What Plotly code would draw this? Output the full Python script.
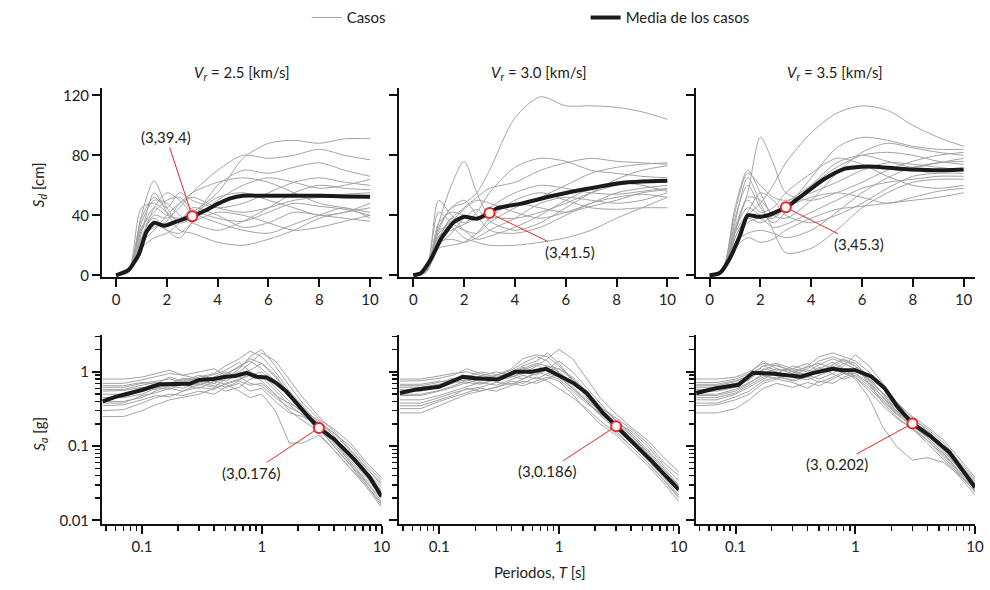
import plotly.graph_objects as go
import math

# ---------------- DATA ----------------
PANEL_TITLES = ["2.5", "3.0", "3.5"]

# Top row: spectral displacement Sd [cm] vs T [s]
T_TOP = [0, 0.5, 1, 1.5, 2, 2.5, 3, 4, 5, 6, 7, 8, 9, 10]

SD_CASES_25 = [
    [0, 3, 30, 45, 40, 38, 42, 55, 78, 88, 90, 88, 91, 91],
    [0, 2, 25, 40, 38, 45, 55, 70, 80, 78, 80, 84, 80, 77],
    [0, 4, 40, 63, 45, 35, 38, 60, 70, 68, 72, 75, 70, 66],
    [0, 3, 35, 50, 48, 40, 35, 30, 36, 45, 55, 60, 58, 57],
    [0, 2, 28, 55, 42, 30, 28, 22, 20, 24, 30, 38, 42, 45],
    [0, 3, 38, 52, 45, 55, 50, 45, 48, 55, 62, 65, 62, 60],
    [0, 2, 20, 35, 30, 28, 35, 42, 40, 35, 30, 32, 36, 40],
    [0, 2, 22, 30, 40, 48, 52, 45, 42, 45, 50, 52, 54, 55],
    [0, 3, 30, 38, 30, 25, 35, 50, 60, 65, 62, 58, 60, 64],
    [0, 2, 18, 25, 28, 35, 45, 40, 32, 35, 42, 40, 38, 36],
    [0, 4, 45, 48, 42, 36, 40, 52, 55, 50, 45, 40, 42, 48],
    [0, 2, 25, 32, 36, 48, 55, 62, 65, 62, 55, 48, 45, 42],
    [0, 3, 32, 42, 50, 52, 44, 38, 36, 42, 48, 46, 44, 40],
    [0, 2, 24, 45, 55, 50, 42, 35, 30, 28, 34, 40, 45, 38],
]
SD_CASES_30 = [
    [0, 3, 30, 45, 48, 55, 70, 105, 119, 113, 113, 112, 109, 104],
    [0, 3, 35, 60, 76, 55, 40, 38, 42, 48, 55, 60, 62, 62],
    [0, 4, 50, 40, 35, 42, 55, 72, 78, 76, 70, 68, 66, 65],
    [0, 2, 25, 38, 45, 52, 58, 62, 70, 75, 78, 76, 75, 74],
    [0, 3, 30, 32, 25, 22, 20, 20, 22, 25, 30, 38, 45, 52],
    [0, 2, 20, 28, 38, 44, 36, 30, 35, 45, 55, 64, 70, 73],
    [0, 3, 35, 42, 40, 38, 45, 55, 60, 58, 55, 54, 56, 58],
    [0, 2, 22, 24, 22, 25, 30, 38, 48, 52, 50, 48, 50, 55],
    [0, 3, 28, 36, 44, 50, 48, 42, 38, 42, 48, 55, 58, 60],
    [0, 4, 42, 35, 30, 28, 35, 45, 52, 60, 68, 72, 74, 75],
    [0, 2, 18, 20, 22, 28, 38, 50, 55, 50, 45, 44, 45, 45],
    [0, 3, 32, 45, 50, 40, 30, 28, 32, 40, 48, 52, 54, 52],
    [0, 2, 26, 30, 34, 38, 42, 48, 45, 42, 46, 50, 55, 57],
    [0, 3, 24, 38, 30, 24, 26, 32, 40, 50, 58, 62, 60, 56],
]
SD_CASES_35 = [
    [0, 3, 30, 55, 92, 75, 55, 50, 55, 62, 70, 76, 80, 82],
    [0, 2, 25, 40, 48, 60, 75, 95, 108, 113, 110, 100, 92, 86],
    [0, 4, 45, 70, 55, 40, 45, 65, 85, 92, 90, 86, 84, 84],
    [0, 3, 35, 65, 48, 30, 15, 18, 30, 45, 55, 62, 64, 64],
    [0, 2, 28, 52, 50, 40, 38, 50, 68, 82, 88, 85, 82, 80],
    [0, 3, 38, 60, 45, 35, 42, 60, 75, 80, 76, 72, 75, 78],
    [0, 2, 20, 35, 38, 32, 34, 42, 50, 58, 62, 64, 66, 66],
    [0, 3, 30, 45, 40, 38, 45, 52, 55, 52, 48, 52, 56, 58],
    [0, 2, 22, 28, 30, 28, 25, 30, 42, 55, 65, 72, 75, 76],
    [0, 4, 42, 68, 60, 52, 50, 55, 62, 70, 75, 74, 72, 70],
    [0, 2, 25, 38, 35, 40, 48, 60, 72, 80, 82, 80, 76, 74],
    [0, 3, 32, 50, 42, 45, 55, 68, 78, 74, 66, 60, 58, 60],
    [0, 2, 18, 25, 22, 24, 30, 38, 44, 46, 48, 50, 52, 55],
    [0, 3, 28, 42, 55, 50, 40, 35, 40, 48, 58, 66, 68, 68],
]

T_MEAN_TOP_25 = [0, 0.5, 0.9, 1.2, 1.5, 1.9, 2.4, 3, 3.5, 4, 4.5, 5, 6, 7, 8, 9, 10]
SD_MEAN_25 = [0, 3.7, 14, 29, 35, 33, 36, 39.4, 43, 47.6, 51.3, 53, 53, 53, 53, 52.6, 52.4]
T_MEAN_TOP_30 = [0, 0.3, 0.7, 1.1, 1.6, 2.0, 2.5, 3.0, 3.3, 4.2, 5.5, 6.8, 8.1, 9, 10]
SD_MEAN_30 = [0, 1.5, 11, 24.5, 35.5, 39, 37.7, 41.5, 44.7, 47.6, 53, 57.5, 61.4, 62.5, 63]
T_MEAN_TOP_35 = [0, 0.4, 0.8, 1.2, 1.5, 1.9, 2.3, 3.0, 3.6, 4.5, 5.3, 6, 6.5, 7.5, 8.8, 10]
SD_MEAN_35 = [0, 1.5, 11.4, 26.7, 40, 39, 40, 45.3, 52.6, 64, 71, 72.4, 72.4, 71, 70, 70.6]

# Bottom row: spectral acceleration Sa [g] vs T [s] (log-log)
T_BOT = [0.047, 0.07, 0.1, 0.13, 0.17, 0.22, 0.3, 0.4, 0.5, 0.65, 0.8, 1.0, 1.3, 1.7, 2.2, 3, 4, 5.5, 7.5, 10]

SA_CASES_25 = [
    [0.62, 0.62, 0.70, 0.75, 0.80, 0.72, 0.85, 0.95, 1.20, 1.50, 1.90, 1.60, 1.00, 0.55, 0.35, 0.20, 0.13, 0.075, 0.045, 0.028],
    [0.45, 0.46, 0.55, 0.62, 0.58, 0.70, 0.66, 0.80, 0.75, 0.95, 1.05, 1.30, 0.90, 0.50, 0.30, 0.22, 0.15, 0.085, 0.050, 0.032],
    [0.30, 0.31, 0.38, 0.45, 0.50, 0.48, 0.55, 0.50, 0.62, 0.70, 0.55, 0.60, 0.40, 0.28, 0.25, 0.19, 0.12, 0.060, 0.033, 0.018],
    [0.70, 0.70, 0.78, 0.85, 0.95, 0.90, 1.00, 1.10, 0.90, 1.20, 1.40, 1.10, 0.75, 0.45, 0.30, 0.17, 0.10, 0.055, 0.032, 0.020],
    [0.25, 0.25, 0.30, 0.36, 0.42, 0.45, 0.50, 0.60, 0.68, 0.55, 0.45, 0.50, 0.30, 0.11, 0.11, 0.14, 0.09, 0.050, 0.028, 0.015],
    [0.55, 0.56, 0.62, 0.58, 0.70, 0.80, 0.75, 0.70, 0.85, 1.00, 1.30, 1.80, 1.40, 0.80, 0.45, 0.25, 0.16, 0.090, 0.050, 0.030],
    [0.40, 0.40, 0.45, 0.55, 0.65, 0.60, 0.72, 0.65, 0.55, 0.62, 0.80, 0.90, 0.62, 0.40, 0.28, 0.20, 0.15, 0.100, 0.055, 0.035],
    [0.80, 0.80, 0.85, 0.95, 1.05, 0.90, 0.80, 0.92, 1.05, 1.35, 1.00, 0.85, 0.55, 0.36, 0.26, 0.18, 0.11, 0.060, 0.035, 0.022],
    [0.35, 0.36, 0.42, 0.48, 0.46, 0.55, 0.62, 0.58, 0.70, 0.80, 0.95, 0.75, 0.50, 0.30, 0.22, 0.16, 0.12, 0.080, 0.045, 0.025],
    [0.50, 0.50, 0.58, 0.65, 0.62, 0.75, 0.70, 0.85, 1.00, 0.85, 0.70, 0.65, 0.45, 0.33, 0.27, 0.21, 0.14, 0.070, 0.040, 0.024],
    [0.65, 0.65, 0.72, 0.68, 0.85, 0.75, 0.90, 0.80, 0.95, 1.15, 1.50, 1.30, 0.85, 0.50, 0.32, 0.19, 0.12, 0.065, 0.038, 0.022],
    [0.45, 0.45, 0.50, 0.60, 0.72, 0.68, 0.60, 0.75, 0.68, 0.78, 0.90, 1.00, 0.70, 0.45, 0.30, 0.15, 0.09, 0.050, 0.030, 0.017],
    [0.38, 0.38, 0.48, 0.52, 0.60, 0.55, 0.68, 0.62, 0.80, 1.10, 1.60, 2.00, 1.20, 0.65, 0.38, 0.23, 0.17, 0.110, 0.060, 0.038],
    [0.58, 0.58, 0.66, 0.72, 0.68, 0.82, 0.78, 0.70, 0.62, 0.75, 0.66, 0.70, 0.48, 0.38, 0.30, 0.18, 0.10, 0.055, 0.030, 0.016],
]
SA_CASES_30 = [
    [0.55, 0.55, 0.62, 0.70, 0.80, 0.75, 0.90, 1.10, 1.50, 1.70, 1.60, 1.20, 0.80, 0.50, 0.33, 0.24, 0.17, 0.110, 0.060, 0.040],
    [0.75, 0.76, 0.82, 0.90, 1.10, 0.95, 0.85, 1.00, 1.20, 1.40, 1.80, 1.30, 0.75, 0.45, 0.28, 0.18, 0.12, 0.070, 0.040, 0.025],
    [0.35, 0.35, 0.42, 0.48, 0.60, 0.55, 0.62, 0.75, 0.70, 0.85, 0.75, 0.60, 0.45, 0.32, 0.22, 0.15, 0.10, 0.060, 0.035, 0.020],
    [0.62, 0.62, 0.68, 0.80, 0.90, 0.85, 0.75, 0.85, 1.00, 0.90, 1.10, 1.40, 1.00, 0.60, 0.38, 0.22, 0.14, 0.080, 0.045, 0.028],
    [0.28, 0.28, 0.35, 0.42, 0.50, 0.55, 0.62, 0.70, 0.65, 0.75, 0.85, 0.75, 0.50, 0.30, 0.20, 0.14, 0.09, 0.055, 0.032, 0.018],
    [0.48, 0.48, 0.55, 0.62, 0.72, 0.68, 0.80, 0.95, 1.10, 1.30, 1.20, 1.00, 0.70, 0.48, 0.32, 0.20, 0.13, 0.080, 0.045, 0.027],
    [0.68, 0.68, 0.75, 0.72, 0.85, 1.00, 0.92, 0.85, 0.95, 1.20, 1.50, 2.00, 1.50, 0.80, 0.45, 0.27, 0.18, 0.120, 0.070, 0.045],
    [0.42, 0.42, 0.48, 0.55, 0.62, 0.72, 0.66, 0.78, 0.90, 0.80, 0.95, 0.85, 0.60, 0.40, 0.26, 0.17, 0.11, 0.065, 0.038, 0.022],
    [0.58, 0.58, 0.65, 0.75, 0.70, 0.80, 0.90, 1.05, 1.30, 1.60, 1.40, 0.95, 0.62, 0.42, 0.30, 0.19, 0.12, 0.075, 0.042, 0.026],
    [0.38, 0.38, 0.45, 0.52, 0.58, 0.62, 0.72, 0.68, 0.80, 1.00, 1.20, 1.10, 0.80, 0.55, 0.35, 0.22, 0.15, 0.090, 0.050, 0.030],
    [0.80, 0.80, 0.88, 0.95, 1.00, 0.90, 0.82, 0.95, 1.15, 1.00, 0.90, 0.80, 0.55, 0.38, 0.28, 0.20, 0.14, 0.085, 0.048, 0.029],
    [0.50, 0.50, 0.56, 0.64, 0.78, 0.70, 0.78, 0.88, 0.80, 0.95, 1.05, 1.10, 0.85, 0.55, 0.33, 0.16, 0.10, 0.060, 0.035, 0.021],
    [0.32, 0.32, 0.40, 0.46, 0.52, 0.60, 0.55, 0.65, 0.75, 0.70, 0.80, 0.95, 0.70, 0.48, 0.32, 0.21, 0.16, 0.100, 0.055, 0.034],
    [0.65, 0.65, 0.72, 0.82, 0.75, 0.88, 1.00, 0.90, 1.05, 1.25, 1.00, 0.88, 0.60, 0.40, 0.27, 0.19, 0.13, 0.070, 0.040, 0.024],
]
SA_CASES_35 = [
    [0.55, 0.55, 0.62, 0.80, 1.20, 1.30, 1.10, 1.00, 1.25, 1.50, 1.30, 1.10, 0.75, 0.45, 0.28, 0.18, 0.12, 0.070, 0.040, 0.025],
    [0.72, 0.72, 0.80, 0.95, 1.40, 1.10, 0.95, 1.20, 1.60, 1.80, 1.60, 1.40, 1.00, 0.60, 0.38, 0.25, 0.18, 0.120, 0.065, 0.038],
    [0.35, 0.36, 0.42, 0.50, 0.70, 0.80, 0.72, 0.60, 0.75, 0.70, 0.85, 0.95, 0.70, 0.45, 0.30, 0.20, 0.15, 0.090, 0.048, 0.028],
    [0.62, 0.62, 0.70, 0.85, 1.00, 0.90, 0.75, 0.85, 1.05, 1.20, 1.00, 0.80, 0.45, 0.18, 0.10, 0.065, 0.07, 0.060, 0.040, 0.025],
    [0.48, 0.48, 0.55, 0.70, 0.95, 1.10, 1.00, 0.90, 0.80, 0.95, 1.20, 1.70, 1.20, 0.70, 0.40, 0.24, 0.16, 0.100, 0.055, 0.032],
    [0.28, 0.28, 0.32, 0.42, 0.60, 0.70, 0.62, 0.72, 0.65, 0.80, 0.95, 0.85, 0.60, 0.40, 0.27, 0.19, 0.13, 0.080, 0.045, 0.026],
    [0.80, 0.80, 0.85, 1.00, 1.30, 1.20, 1.05, 0.90, 1.10, 1.35, 1.10, 0.85, 0.55, 0.35, 0.24, 0.17, 0.12, 0.075, 0.042, 0.024],
    [0.42, 0.42, 0.50, 0.62, 0.80, 0.95, 0.90, 1.10, 1.40, 1.60, 1.40, 1.20, 0.90, 0.60, 0.36, 0.22, 0.14, 0.085, 0.048, 0.028],
    [0.58, 0.58, 0.64, 0.78, 1.10, 1.00, 0.85, 0.78, 0.90, 1.05, 1.30, 1.10, 0.80, 0.50, 0.32, 0.20, 0.15, 0.095, 0.052, 0.030],
    [0.38, 0.38, 0.46, 0.55, 0.75, 0.85, 0.78, 0.95, 1.15, 0.95, 0.80, 0.90, 0.65, 0.42, 0.28, 0.21, 0.16, 0.100, 0.056, 0.034],
    [0.65, 0.65, 0.74, 0.90, 1.20, 1.05, 1.10, 1.30, 1.00, 1.15, 1.45, 1.30, 0.85, 0.50, 0.30, 0.19, 0.13, 0.078, 0.044, 0.026],
    [0.50, 0.50, 0.58, 0.72, 0.90, 0.80, 0.95, 0.85, 0.72, 0.85, 1.00, 1.05, 0.78, 0.52, 0.34, 0.23, 0.17, 0.110, 0.060, 0.036],
    [0.45, 0.45, 0.52, 0.66, 0.85, 0.95, 1.20, 1.05, 0.95, 1.25, 1.50, 1.20, 0.70, 0.38, 0.25, 0.17, 0.11, 0.065, 0.038, 0.022],
    [0.68, 0.68, 0.76, 0.88, 1.05, 1.25, 1.00, 1.15, 1.30, 1.10, 0.95, 0.95, 0.70, 0.46, 0.30, 0.22, 0.15, 0.092, 0.050, 0.030],
]

T_MEAN_BOT_25 = [0.047, 0.06, 0.08, 0.1, 0.14, 0.2, 0.25, 0.3, 0.4, 0.5, 0.6, 0.75, 0.9, 1.1, 1.3, 1.6, 2.0, 2.5, 3, 4, 5, 6, 8, 10]
SA_MEAN_25 = [0.40, 0.46, 0.52, 0.57, 0.68, 0.68, 0.69, 0.78, 0.80, 0.86, 0.88, 0.97, 0.86, 0.84, 0.72, 0.55, 0.36, 0.24, 0.176, 0.125, 0.088, 0.065, 0.038, 0.021]
T_MEAN_BOT_30 = [0.047, 0.065, 0.1, 0.157, 0.2, 0.31, 0.43, 0.58, 0.78, 1.03, 1.33, 1.7, 2.33, 3.0, 4.1, 6.0, 10]
SA_MEAN_30 = [0.52, 0.58, 0.63, 0.86, 0.82, 0.79, 1.0, 1.0, 1.1, 0.86, 0.70, 0.52, 0.28, 0.186, 0.113, 0.062, 0.026]
T_MEAN_BOT_35 = [0.047, 0.069, 0.106, 0.14, 0.2, 0.35, 0.45, 0.65, 0.78, 1.0, 1.37, 1.76, 2.25, 3.0, 4.2, 6.1, 10]
SA_MEAN_35 = [0.52, 0.60, 0.67, 0.97, 0.95, 0.86, 0.97, 1.1, 1.05, 1.05, 0.86, 0.60, 0.34, 0.202, 0.138, 0.083, 0.028]

SD_AT_3 = [39.4, 41.5, 45.3]
SA_AT_3 = [0.176, 0.186, 0.202]
SD_LABELS = ["(3,39.4)", "(3,41.5)", "(3,45.3)"]
SA_LABELS = ["(3,0.176)", "(3,0.186)", "(3, 0.202)"]

# ---------------- FIGURE ----------------
W, H = 990, 590
FONT = "Lato"
GRAY = "#a3a3a3"
BLACK = "#1a1a1a"
RED = "#e8262b"
TXT = "#222"


def fx(px):
    return px / W


def fy(py):
    return 1 - py / H


fig = go.Figure()

xdom = [(103, 385), (403, 685), (702, 984)]
ydom_top = (87, 279)
ydom_bot = (338, 529)

sd_cases = [SD_CASES_25, SD_CASES_30, SD_CASES_35]
sd_mean_t = [T_MEAN_TOP_25, T_MEAN_TOP_30, T_MEAN_TOP_35]
sd_mean = [SD_MEAN_25, SD_MEAN_30, SD_MEAN_35]
sa_cases = [SA_CASES_25, SA_CASES_30, SA_CASES_35]
sa_mean_t = [T_MEAN_BOT_25, T_MEAN_BOT_30, T_MEAN_BOT_35]
sa_mean = [SA_MEAN_25, SA_MEAN_30, SA_MEAN_35]

axis_common = dict(
    showline=True, linecolor="#111", linewidth=2, ticks="outside", ticklen=8,
    tickwidth=2, tickcolor="#111", showgrid=False, zeroline=False,
    tickfont=dict(family=FONT, size=15, color=TXT), mirror=False,
)

minor_x_log = [v * m for v in (0.01, 0.1, 1) for m in range(2, 10) if 0.045 < v * m < 10]
minor_y_log = [v * m for v in (0.01, 0.1, 1) for m in range(2, 10) if v * m < 3.1]

annotations = []
first_case = True
for i in range(3):
    xt = 2 * i + 1
    xb = 2 * i + 2
    xa_t = "x" if xt == 1 else f"x{xt}"
    ya_t = "y" if xt == 1 else f"y{xt}"
    xa_b = f"x{xb}"
    ya_b = f"y{xb}"

    for case in sd_cases[i]:
        fig.add_trace(go.Scatter(
            x=T_TOP, y=case, mode="lines", line=dict(color=GRAY, width=1, shape="spline", smoothing=0.8),
            xaxis=xa_t, yaxis=ya_t, name="Casos", legendgroup="casos", showlegend=first_case,
            hoverinfo="skip"))
        first_case = False
    for case in sa_cases[i]:
        fig.add_trace(go.Scatter(
            x=T_BOT, y=case, mode="lines", line=dict(color=GRAY, width=1),
            xaxis=xa_b, yaxis=ya_b, name="Casos", legendgroup="casos", showlegend=False,
            hoverinfo="skip"))

    fig.add_trace(go.Scatter(
        x=sd_mean_t[i], y=sd_mean[i], mode="lines",
        line=dict(color=BLACK, width=4, shape="spline", smoothing=0.6),
        xaxis=xa_t, yaxis=ya_t, name="Media de los casos", legendgroup="media",
        showlegend=(i == 0)))
    fig.add_trace(go.Scatter(
        x=sa_mean_t[i], y=sa_mean[i], mode="lines", line=dict(color=BLACK, width=4),
        xaxis=xa_b, yaxis=ya_b, name="Media de los casos", legendgroup="media",
        showlegend=False))

    fig.add_trace(go.Scatter(
        x=[3], y=[SD_AT_3[i]], mode="markers",
        marker=dict(symbol="circle", size=10, color="white", line=dict(color=RED, width=2)),
        xaxis=xa_t, yaxis=ya_t, showlegend=False))
    fig.add_trace(go.Scatter(
        x=[3], y=[SA_AT_3[i]], mode="markers",
        marker=dict(symbol="circle", size=10, color="white", line=dict(color=RED, width=2)),
        xaxis=xa_b, yaxis=ya_b, showlegend=False))

    xd = [fx(xdom[i][0]), fx(xdom[i][1])]
    fig.update_layout(**{
        ("xaxis" if xt == 1 else f"xaxis{xt}"): dict(
            domain=xd, anchor=ya_t, range=[-0.55, 10.45], tickvals=[0, 2, 4, 6, 8, 10],
            **axis_common),
        ("yaxis" if xt == 1 else f"yaxis{xt}"): dict(
            domain=[fy(ydom_top[1]), fy(ydom_top[0])], anchor=xa_t, range=[-1.3, 125],
            tickvals=[0, 40, 80, 120], showticklabels=(i == 0), **axis_common),
        f"xaxis{xb}": dict(
            domain=xd, anchor=ya_b, type="log", range=[-1.333, 1.0],
            tickvals=[0.1, 1, 10], ticktext=["0.1", "1", "10"],
            minor=dict(tickvals=minor_x_log, ticks="outside", ticklen=5, tickwidth=1.5, tickcolor="#111"),
            **axis_common),
        f"yaxis{xb}": dict(
            domain=[fy(ydom_bot[1]), fy(ydom_bot[0])], anchor=xa_b, type="log", range=[-2.045, 0.49],
            tickvals=[0.01, 0.1, 1], ticktext=["0.01", "0.1", "1"], showticklabels=(i == 0),
            minor=dict(tickvals=minor_y_log, ticks="outside", ticklen=5, tickwidth=1.5, tickcolor="#111"),
            **axis_common),
    })

    annotations.append(dict(
        text=f"<i>V<sub>r</sub></i> = {PANEL_TITLES[i]} [km/s]", xref="paper", yref="paper",
        x=(xd[0] + xd[1]) / 2, y=fy(72), showarrow=False,
        font=dict(family=FONT, size=15, color=TXT), xanchor="center", yanchor="middle"))

# leader-line labels
top_offsets = [(-26, -79), (80, 39), (73, 37)]
bot_offsets = [(-68, 45), (-69, 45), (-75, 41)]
for i in range(3):
    xt = 2 * i + 1
    xb = 2 * i + 2
    annotations.append(dict(
        x=3, y=SD_AT_3[i], xref="x" if xt == 1 else f"x{xt}", yref="y" if xt == 1 else f"y{xt}",
        text=SD_LABELS[i], showarrow=True, arrowhead=0, arrowwidth=1, arrowcolor=RED,
        ax=top_offsets[i][0], ay=top_offsets[i][1], standoff=5,
        font=dict(family=FONT, size=15, color=TXT)))
    annotations.append(dict(
        x=math.log10(3), y=math.log10(SA_AT_3[i]), xref=f"x{xb}", yref=f"y{xb}",
        text=SA_LABELS[i], showarrow=True, arrowhead=0, arrowwidth=1, arrowcolor=RED,
        ax=bot_offsets[i][0], ay=bot_offsets[i][1], standoff=5,
        font=dict(family=FONT, size=15, color=TXT)))

# axis titles
annotations.append(dict(text="<i>S<sub>d</sub></i> [cm]", xref="paper", yref="paper",
                        x=fx(40), y=fy(185), textangle=-90, showarrow=False,
                        xanchor="center", yanchor="middle",
                        font=dict(family=FONT, size=15, color=TXT)))
annotations.append(dict(text="<i>S<sub>a</sub></i> [g]", xref="paper", yref="paper",
                        x=fx(40), y=fy(438), textangle=-90, showarrow=False,
                        xanchor="center", yanchor="middle",
                        font=dict(family=FONT, size=15, color=TXT)))
annotations.append(dict(text="Periodos, <i>T</i> [s]", xref="paper", yref="paper",
                        x=fx(545), y=fy(578), showarrow=False,
                        xanchor="center", yanchor="middle",
                        font=dict(family=FONT, size=15, color=TXT)))

fig.update_layout(
    width=W, height=H, margin=dict(l=0, r=0, t=0, b=0),
    plot_bgcolor="white", paper_bgcolor="white",
    annotations=annotations,
    legend=dict(orientation="h", x=0.5 + 96 / W, xanchor="center", y=fy(16), yanchor="middle",
                font=dict(family=FONT, size=15, color=TXT), entrywidth=234, itemwidth=30,
                bgcolor="rgba(0,0,0,0)"),
    font=dict(family=FONT),
    hovermode=False,
)

fig.write_html("out.html", config={"displayModeBar": False, "staticPlot": True},
               post_script="document.body.style.margin='0px';")
